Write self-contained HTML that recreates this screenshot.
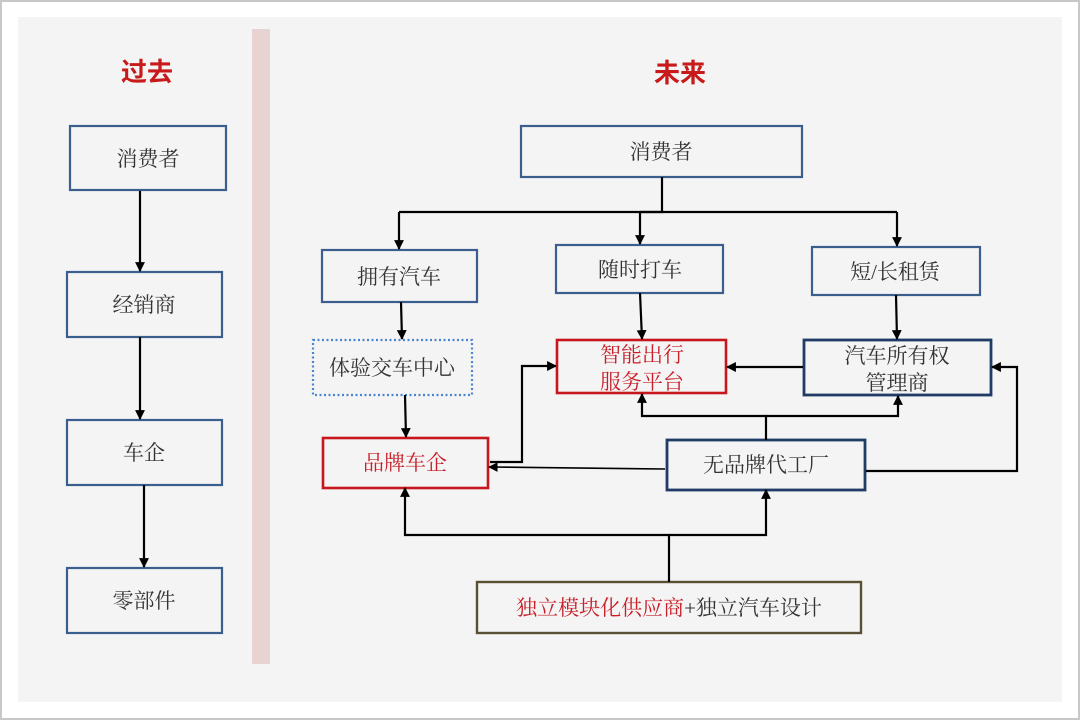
<!DOCTYPE html>
<html><head><meta charset="utf-8"><style>
html,body{margin:0;padding:0;background:#fff;}
svg{display:block;}
.t{font-family:"Liberation Serif","Noto Serif CJK SC",serif;font-size:21px;fill:#333;}
.r{fill:#c8202a;}
.h{font-family:"Liberation Sans","Noto Sans CJK SC",sans-serif;font-size:26px;fill:#c81a1a;font-weight:bold;}
</style></head><body>
<svg width="1080" height="720" viewBox="0 0 1080 720" xmlns="http://www.w3.org/2000/svg">
<defs>
<marker id="a" viewBox="0 0 10 10" refX="9" refY="5" markerWidth="4.5" markerHeight="4.5" orient="auto" markerUnits="strokeWidth">
<path d="M0,0 L10,5 L0,10 z" fill="#000"/></marker>
<marker id="b" viewBox="0 0 10 10" refX="9" refY="5" markerWidth="6" markerHeight="6" orient="auto" markerUnits="strokeWidth">
<path d="M0,0 L10,5 L0,10 z" fill="#000"/></marker>
</defs>
<rect x="0.5" y="0.5" width="1079" height="719" fill="#fff" stroke="#c8c8c8" stroke-width="3"/>
<rect x="18" y="17" width="1044" height="685" fill="#f4f4f4"/>
<rect x="252" y="29" width="18" height="635" fill="#e8d3d3"/>

<text class="h" x="147" y="81" text-anchor="middle">过去</text>
<text class="h" x="680" y="82" text-anchor="middle">未来</text>

<g fill="none" stroke="#3a5f8f" stroke-width="2.2">
<rect x="70" y="126" width="156" height="64"/>
<rect x="67" y="272" width="155" height="65"/>
<rect x="67" y="420" width="155" height="65"/>
<rect x="67" y="568" width="155" height="65"/>
<rect x="521" y="126" width="281" height="51"/>
<rect x="322" y="250" width="155" height="52"/>
<rect x="556" y="245" width="167" height="48"/>
<rect x="812" y="247" width="168" height="48"/>
</g>
<rect x="313" y="340" width="159" height="55" fill="none" stroke="#4a86d0" stroke-width="2.2" stroke-dasharray="2,2.5"/>
<g fill="none" stroke="#c8161e" stroke-width="2.6">
<rect x="557" y="340" width="169" height="53"/>
<rect x="323" y="438" width="165" height="50"/>
</g>
<g fill="none" stroke="#1f3b66" stroke-width="2.8">
<rect x="804" y="340" width="187" height="55"/>
<rect x="667" y="440" width="198" height="50"/>
</g>
<rect x="477" y="582" width="384" height="51" fill="none" stroke="#595033" stroke-width="2.4"/>

<g class="t" text-anchor="middle">
<text x="148" y="166">消费者</text>
<text x="144" y="312">经销商</text>
<text x="144" y="460">车企</text>
<text x="144" y="608">零部件</text>
<text x="661" y="159">消费者</text>
<text x="399" y="284">拥有汽车</text>
<text x="640" y="277">随时打车</text>
<text x="895" y="279">短/长租赁</text>
<text x="392" y="375">体验交车中心</text>
<text x="642" y="362" class="t r">智能出行</text>
<text x="642" y="389" class="t r">服务平台</text>
<text x="897" y="363">汽车所有权</text>
<text x="897" y="390">管理商</text>
<text x="405" y="470" class="t r">品牌车企</text>
<text x="766" y="472">无品牌代工厂</text>
<text x="669" y="615"><tspan class="r">独立模块化供应商</tspan>+独立汽车设计</text>
</g>

<g fill="none" stroke="#000" stroke-width="2.2">
<line x1="140" y1="191" x2="140" y2="271" marker-end="url(#a)"/>
<line x1="140" y1="337" x2="140" y2="419" marker-end="url(#a)"/>
<line x1="144" y1="485" x2="144" y2="567" marker-end="url(#a)"/>
<polyline points="662,177 662,212 640,212"/>
<polyline points="897,212 399,212"/>
<line x1="399" y1="212" x2="399" y2="249" marker-end="url(#a)"/>
<line x1="640" y1="212" x2="640" y2="244" marker-end="url(#a)"/>
<line x1="897" y1="212" x2="897" y2="246" marker-end="url(#a)"/>
<line x1="401" y1="302" x2="402" y2="339" marker-end="url(#a)"/>
<line x1="640" y1="293" x2="642" y2="339" marker-end="url(#a)"/>
<line x1="896" y1="295" x2="897" y2="339" marker-end="url(#a)"/>
<line x1="405" y1="395" x2="406" y2="437" marker-end="url(#a)"/>
<line x1="803" y1="367" x2="727" y2="367" marker-end="url(#a)"/>
<polyline points="866,471 1017,471 1017,367 992,367" marker-end="url(#a)"/>
<polyline points="490,462 522,462 522,366 556,366" marker-end="url(#a)"/>
<line x1="665" y1="469" x2="489" y2="467" stroke-width="1.6" marker-end="url(#b)"/>
<polyline points="766,440 766,416 642,416 642,394" marker-end="url(#a)"/>
<polyline points="766,416 898,416 898,396" marker-end="url(#a)"/>
<polyline points="669,582 669,535 405,535 405,488" marker-end="url(#a)"/>
<polyline points="669,535 766,535 766,490" marker-end="url(#a)"/>
</g>
</svg>
</body></html>
